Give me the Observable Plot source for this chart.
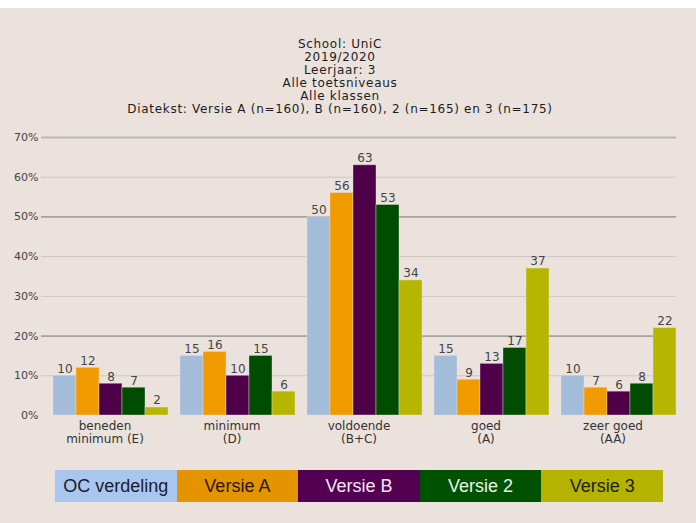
<!DOCTYPE html>
<html>
<head>
<meta charset="utf-8">
<script src="https://cdn.jsdelivr.net/npm/d3@7"></script>
<script src="https://cdn.jsdelivr.net/npm/@observablehq/plot@0.6"></script>
<style>
  body { margin: 0; background: #ffffff; }
  #page { position: absolute; top: 8px; left: 0; width: 696px; height: 515px; background: #ebe2dd; overflow: hidden; }
  #title { position: absolute; top: 29.5px; left: 0; width: 680px; text-align: center;
           font-family: "DejaVu Sans"; font-size: 12px; line-height: 13px; color: #1c1c1c; letter-spacing: 0.7px; }
  #chart { position: absolute; top: 110px; left: 0; }
  #legend { position: absolute; top: 462px; left: 55px; display: flex; }
  #legend div { width: 121.6px; height: 32px; line-height: 32px; text-align: center;
                font-family: "Liberation Sans"; font-size: 18px; }
</style>
</head>
<body>
<div id="page">
  <div id="title"></div>
  <div id="chart"></div>
  <div id="legend"></div>
</div>
<script>
const titleLines = [
  "School: UniC",
  "2019/2020",
  "Leerjaar: 3",
  "Alle toetsniveaus",
  "Alle klassen",
  "Diatekst: Versie A (n=160), B (n=160), 2 (n=165) en 3 (n=175)"
];
const categories = ["beneden\nminimum (E)", "minimum\n(D)", "voldoende\n(B+C)", "goed\n(A)", "zeer goed\n(AA)"];
const series = ["OC verdeling", "Versie A", "Versie B", "Versie 2", "Versie 3"];
const ocVerdeling = [10, 15, 50, 15, 10];
const versieA = [12, 16, 56, 9, 7];
const versieB = [8, 10, 63, 13, 6];
const versie2 = [7, 15, 53, 17, 8];
const versie3 = [2, 6, 34, 37, 22];
const barColors = ["#a3bcda", "#f19b00", "#4e0049", "#004c00", "#b6b600"];
const legendColors = ["#a9c6f0", "#e39400", "#540052", "#005200", "#b4b400"];
const legendText = ["#1c1c28", "#2a1800", "#f2e8f2", "#e8f2e8", "#202000"];
const yTicks = [0, 10, 20, 30, 40, 50, 60, 70];
const gridLight = [10, 30, 40, 60];
const gridDark = [20, 50];
const gridTop = [70];

document.getElementById("title").innerHTML = titleLines.join("<br>");

const valuesBySeries = [ocVerdeling, versieA, versieB, versie2, versie3];
const rows = [];
series.forEach((s, si) => {
  categories.forEach((c, ci) => rows.push({cat: c, series: s, value: valuesBySeries[si][ci]}));
});

const chart = Plot.plot({
  width: 696,
  height: 332,
  marginLeft: 40,
  marginRight: 19,
  marginTop: 19,
  marginBottom: 35,
  style: {background: "transparent", fontFamily: "DejaVu Sans", overflow: "visible"},
  fx: {domain: categories, padding: 0, axis: null},
  x: {domain: series, paddingInner: 0, paddingOuter: 0.154, align: 1, axis: null},
  y: {domain: [0, 70], axis: null},
  color: {domain: series, range: barColors},
  marks: [
    Plot.ruleY(gridLight, {stroke: "#cec5c0", strokeWidth: 1}),
    Plot.ruleY(gridTop, {stroke: "#bdb5b1", strokeWidth: 2}),
    Plot.ruleY(gridDark, {stroke: "#767270", strokeWidth: 1}),
    Plot.axisY({ticks: yTicks, tickFormat: d => d + "%", tickSize: 0, tickPadding: 3,
                fontSize: 11, fill: "#444", label: null, letterSpacing: "0.9px"}),
    Plot.barY(rows, {fx: "cat", x: "series", y: "value", fill: "series",
                     stroke: "#e8e0dc", strokeOpacity: 0.5, strokeWidth: 0.8}),
    Plot.text(rows, {fx: "cat", x: "series", y: "value", text: "value", dy: -7,
                     fill: "#444", fontSize: 12, letterSpacing: "1.4px"}),
    Plot.text(categories, {fx: d => d, text: d => d, frameAnchor: "bottom", lineAnchor: "top",
                           dy: 5, lineHeight: 1.1, fontSize: 12, fill: "#333", letterSpacing: "1.3px"})
  ]
});
document.getElementById("chart").appendChild(chart);

const legend = document.getElementById("legend");
series.forEach((s, i) => {
  const d = document.createElement("div");
  d.textContent = s;
  d.style.background = legendColors[i];
  d.style.color = legendText[i];
  legend.appendChild(d);
});
</script>
</body>
</html>
